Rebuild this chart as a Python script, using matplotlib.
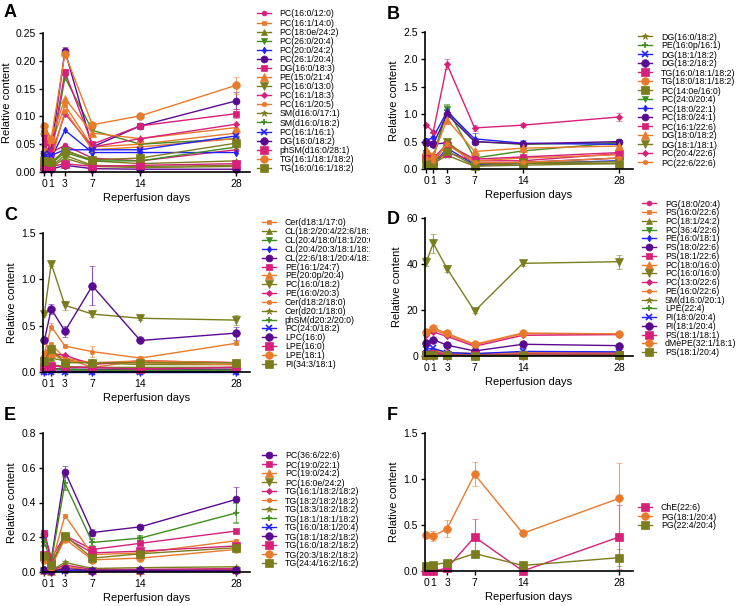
import matplotlib
matplotlib.use("Agg")
import matplotlib.pyplot as plt
from matplotlib.transforms import Bbox

plt.rcParams['font.family'] = ['Liberation Sans', 'DejaVu Sans']

days = [0, 1, 3, 7, 14, 28]

# ---- panel A ----
a_labels = ['PC(16:0/12:0)', 'PC(16:1/14:0)', 'PC(18:0e/24:2)', 'PC(26:0/20:4)', 'PC(20:0/24:2)',
            'PC(26:1/20:4)', 'DG(16:0/18:3)', 'PE(15:0/21:4)', 'PC(16:0/13:0)', 'PC(16:1/18:3)',
            'PC(16:1/20:5)', 'SM(d16:0/17:1)', 'SM(d16:0/18:2)', 'PC(16:1/16:1)', 'DG(16:0/18:2)',
            'phSM(d16:0/28:1)', 'TG(16:1/18:1/18:2)', 'TG(16:0/16:1/18:2)']
a_values = [
    [0.060, 0.035, 0.048, 0.025, 0.020, 0.040],
    [0.070, 0.050, 0.120, 0.045, 0.050, 0.070],
    [0.020, 0.015, 0.040, 0.020, 0.015, 0.020],
    [0.045, 0.030, 0.170, 0.075, 0.050, 0.060],
    [0.030, 0.025, 0.075, 0.035, 0.035, 0.035],
    [0.035, 0.040, 0.218, 0.045, 0.083, 0.128],
    [0.070, 0.035, 0.180, 0.050, 0.083, 0.105],
    [0.075, 0.060, 0.132, 0.070, 0.060, 0.080],
    [0.015, 0.010, 0.030, 0.012, 0.010, 0.012],
    [0.050, 0.030, 0.105, 0.045, 0.060, 0.086],
    [0.040, 0.020, 0.110, 0.040, 0.045, 0.060],
    [0.010, 0.008, 0.025, 0.010, 0.008, 0.010],
    [0.020, 0.015, 0.035, 0.020, 0.020, 0.045],
    [0.032, 0.030, 0.040, 0.040, 0.040, 0.065],
    [0.005, 0.005, 0.012, 0.006, 0.005, 0.005],
    [0.010, 0.010, 0.015, 0.010, 0.012, 0.015],
    [0.082, 0.060, 0.213, 0.085, 0.101, 0.156],
    [0.020, 0.018, 0.038, 0.022, 0.025, 0.052],
]
a_err = {5: [0.003, 0.003, 0.006, 0.004, 0.004, 0.015],
         6: [0.004, 0.003, 0.006, 0.004, 0.004, 0.008],
         13: [0.002, 0.002, 0.003, 0.003, 0.003, 0.008],
         16: [0.005, 0.004, 0.007, 0.005, 0.004, 0.015]}

# ---- panel B ----
b_labels = ['DG(16:0/18:2)', 'PE(16:0p/16:1)', 'DG(18:1/18:2)', 'DG(18:2/18:2)', 'TG(16:0/18:1/18:2)',
            'TG(18:0/18:1/18:2)', 'PC(14:0e/16:0)', 'PC(24:0/20:4)', 'PC(18:0/22:1)', 'PC(18:0/24:1)',
            'PC(16:1/22:6)', 'DG(18:0/18:2)', 'DG(18:1/18:1)', 'PC(20:4/22:6)', 'PC(22:6/22:6)']
b_values = [
    [0.15, 0.10, 0.25, 0.05, 0.07, 0.10],
    [0.30, 0.20, 1.07, 0.50, 0.45, 0.48],
    [0.10, 0.08, 0.38, 0.08, 0.10, 0.15],
    [0.50, 0.45, 0.48, 0.10, 0.12, 0.20],
    [0.20, 0.15, 0.30, 0.15, 0.15, 0.28],
    [0.25, 0.18, 0.45, 0.15, 0.20, 0.26],
    [0.10, 0.07, 0.33, 0.06, 0.10, 0.10],
    [0.30, 0.22, 1.10, 0.20, 0.33, 0.48],
    [0.52, 0.58, 1.05, 0.55, 0.47, 0.45],
    [0.48, 0.45, 1.00, 0.50, 0.46, 0.50],
    [0.28, 0.20, 0.45, 0.18, 0.22, 0.30],
    [0.35, 0.25, 0.90, 0.32, 0.38, 0.42],
    [0.12, 0.08, 0.50, 0.10, 0.12, 0.13],
    [0.80, 0.68, 1.91, 0.75, 0.80, 0.95],
    [0.20, 0.15, 0.45, 0.12, 0.12, 0.20],
]
b_err = {1: [0.03, 0.03, 0.10, 0.05, 0.04, 0.05],
         8: [0.03, 0.03, 0.08, 0.10, 0.06, 0.04],
         13: [0.03, 0.03, 0.09, 0.05, 0.04, 0.07]}

# ---- panel C ----
c_labels = ['Cer(d18:1/17:0)', 'CL(18:2/20:4/22:6/18:1)', 'CL(20:4/18:0/18:1/20:0)',
            'CL(20:4/20:3/18:1/18:1)', 'CL(22:6/18:1/20:4/18:1)', 'PE(16:1/24:7)', 'PE(20:0p/20:4)',
            'PC(16:0/18:2)', 'PE(16:0/20:3)', 'Cer(d18:2/18:0)', 'Cer(d20:1/18:0)', 'phSM(d20:2/20:0)',
            'PC(24:0/18:2)', 'LPC(16:0)', 'LPE(16:0)', 'LPE(18:1)', 'PI(34:3/18:1)']
c_values = [
    [0.20, 0.30, 0.15, 0.05, 0.12, 0.10],
    [0.10, 0.15, 0.12, 0.10, 0.08, 0.08],
    [0.02, 0.03, 0.02, 0.02, 0.02, 0.02],
    [0.005, 0.008, 0.006, 0.005, 0.005, 0.005],
    [0.03, 0.04, 0.03, 0.03, 0.03, 0.03],
    [0.06, 0.07, 0.05, 0.05, 0.04, 0.05],
    [0.18, 0.20, 0.15, 0.10, 0.10, 0.08],
    [0.63, 1.17, 0.72, 0.625, 0.58, 0.56],
    [0.15, 0.20, 0.18, 0.08, 0.12, 0.10],
    [0.20, 0.49, 0.28, 0.22, 0.15, 0.31],
    [0.05, 0.08, 0.06, 0.05, 0.05, 0.05],
    [0.03, 0.03, 0.03, 0.02, 0.02, 0.02],
    [0.005, 0.005, 0.005, 0.005, 0.005, 0.005],
    [0.34, 0.68, 0.44, 0.93, 0.34, 0.42],
    [0.05, 0.07, 0.05, 0.05, 0.03, 0.05],
    [0.15, 0.20, 0.12, 0.10, 0.12, 0.10],
    [0.12, 0.25, 0.10, 0.10, 0.10, 0.10],
]
c_err = {7: [0.02, 0.03, 0.05, 0.03, 0.02, 0.05],
         9: [0.02, 0.04, 0.02, 0.06, 0.02, 0.02],
         13: [0.02, 0.05, 0.06, 0.21, 0.02, 0.07]}

# ---- panel D ----
d_labels = ['PG(18:0/20:4)', 'PS(16:0/22:6)', 'PC(18:1/24:2)', 'PC(36:4/22:6)', 'PE(16:0/18:1)',
            'PS(18:0/22:6)', 'PS(18:1/22:6)', 'PC(18:0/16:0)', 'PC(16:0/16:0)', 'PC(13:0/22:6)',
            'PE(16:0/22:6)', 'SM(d16:0/20:1)', 'LPE(22:4)', 'PI(18:0/20:4)', 'PI(18:1/20:4)',
            'PS(18:1/18:1)', 'dMePE(32:1/18:1)', 'PS(18:1/20:4)']
d_values = [
    [0.8, 0.9, 0.7, 0.4, 0.6, 0.6],
    [9.8, 11.5, 9.3, 4.8, 9.7, 9.5],
    [0.5, 0.6, 0.4, 0.3, 0.4, 0.4],
    [1.0, 1.1, 0.8, 0.5, 0.8, 0.8],
    [1.5, 1.6, 1.2, 0.8, 1.2, 1.2],
    [1.0, 1.1, 0.9, 0.5, 0.9, 0.9],
    [1.2, 1.3, 1.0, 0.6, 1.0, 1.0],
    [2.0, 2.2, 1.6, 1.0, 1.5, 1.5],
    [41.0, 49.0, 38.0, 19.5, 40.3, 41.0],
    [9.0, 10.5, 8.5, 4.2, 9.0, 9.3],
    [2.0, 2.2, 1.5, 1.0, 1.5, 1.5],
    [0.5, 0.5, 0.4, 0.3, 0.4, 0.4],
    [0.3, 0.3, 0.3, 0.2, 0.3, 0.3],
    [3.0, 3.3, 1.5, 1.0, 2.0, 1.8],
    [5.7, 7.1, 4.7, 2.2, 5.1, 4.5],
    [0.6, 0.7, 0.5, 0.3, 0.5, 0.5],
    [10.5, 12.2, 9.8, 5.1, 10.0, 9.6],
    [0.3, 0.3, 0.3, 0.2, 0.3, 0.3],
]
d_err = {8: [2.0, 4.0, 1.5, 1.0, 1.0, 3.0],
         16: [0.6, 0.7, 0.5, 0.4, 0.5, 0.5]}

# ---- panel E ----
e_labels = ['PC(36:6/22:6)', 'PC(19:0/22:1)', 'PC(19:0/24:2)', 'PC(16:0e/24:2)', 'TG(16:1/18:2/18:2)',
            'TG(18:2/18:2/18:2)', 'TG(18:3/18:2/18:2)', 'TG(18:1/18:1/18:2)', 'TG(16:0/18:1/20:4)',
            'TG(18:1/18:2/18:2)', 'TG(16:0/18:2/18:2)', 'TG(20:3/18:2/18:2)', 'TG(24:4/16:2/16:2)']
e_values = [
    [0.22, 0.07, 0.578, 0.227, 0.26, 0.418],
    [0.225, 0.08, 0.21, 0.13, 0.165, 0.236],
    [0.01, 0.005, 0.03, 0.01, 0.01, 0.015],
    [0.005, 0.003, 0.01, 0.005, 0.005, 0.006],
    [0.015, 0.01, 0.04, 0.015, 0.015, 0.02],
    [0.08, 0.04, 0.325, 0.10, 0.11, 0.18],
    [0.02, 0.01, 0.055, 0.02, 0.025, 0.03],
    [0.17, 0.06, 0.51, 0.17, 0.195, 0.34],
    [0.005, 0.003, 0.008, 0.005, 0.005, 0.005],
    [0.01, 0.005, 0.02, 0.008, 0.01, 0.01],
    [0.10, 0.05, 0.20, 0.11, 0.12, 0.15],
    [0.07, 0.03, 0.19, 0.07, 0.08, 0.13],
    [0.09, 0.04, 0.21, 0.08, 0.105, 0.14],
]
e_err = {0: [0.02, 0.01, 0.03, 0.02, 0.01, 0.07],
         7: [0.02, 0.01, 0.04, 0.02, 0.01, 0.06],
         5: [0.01, 0.01, 0.01, 0.01, 0.01, 0.01]}

# ---- panel F ----
f_labels = ['ChE(22:6)', 'PG(18:1/20:4)', 'PG(22:4/20:4)']
f_values = [
    [0.0, 0.0, 0.03, 0.37, 0.0, 0.37],
    [0.39, 0.38, 0.46, 1.05, 0.41, 0.79],
    [0.05, 0.07, 0.09, 0.19, 0.06, 0.145],
]
f_err = {0: [0.0, 0.0, 0.02, 0.19, 0.0, 0.35],
         1: [0.02, 0.05, 0.09, 0.13, 0.02, 0.38],
         2: [0.01, 0.01, 0.01, 0.02, 0.01, 0.09]}

# colour / marker cycle as Prism draws it
MAG, ORA, OLI, GRN, BLU, PUR = '#d6207a', '#e87a2c', '#7b7d1c', '#3f8c1f', '#2020ff', '#5a0a90'
STYLES = [(MAG, 'o', 3.5), (ORA, 's', 3.5), (OLI, '^', 4), (GRN, 'v', 4), (BLU, 'd', 3.5),
          (PUR, 'o', 5), (MAG, 's', 5), (ORA, '^', 5.5), (OLI, 'v', 5.5), (MAG, 'D', 3.2),
          (ORA, 'h', 3.5), (OLI, '*', 4.5), (GRN, '+', 5), (BLU, 'x', 4), (PUR, 'o', 5.5),
          (MAG, 's', 5.5), (ORA, 'o', 5.5), (OLI, 's', 5.5)]

W, H = 738, 606
fig = plt.figure(figsize=(W / 100, H / 100), dpi=100)


def px_axes(left, top, right, bottom):
    return fig.add_axes([left / W, 1 - bottom / H, (right - left) / W, (bottom - top) / H])


def panel(ax, labels, values, errs, style_idx, ymax, yticks, fmt, letter, letter_xy,
          leg_xy, leg_space, leg_fs=6.3, clip_x=None):
    handles = []
    for i, (lab, vals) in enumerate(zip(labels, values)):
        color, marker, ms = STYLES[style_idx[i]]
        cont = ax.errorbar(days, vals, yerr=errs.get(i), color=color, marker=marker,
                           markersize=ms, linewidth=1.0, elinewidth=0.8, capsize=2,
                           capthick=0.8, markeredgewidth=1.2 if marker in '+x' else 0.5,
                           clip_on=False, label=lab)
        for part in cont[2]:
            part.set_alpha(0.7)
        for part in cont[1]:
            part.set_alpha(0.7)
        handles.append(cont[0])
    ax.set_xlim(-0.2, 30)
    ax.set_ylim(0, ymax)
    ax.set_xticks(days)
    ax.set_xticklabels([str(d) for d in days])
    ax.set_yticks(yticks)
    ax.set_yticklabels([fmt.format(t) for t in yticks])
    for s in ('top', 'right'):
        ax.spines[s].set_visible(False)
    for s in ('left', 'bottom'):
        ax.spines[s].set_linewidth(1.2)
    ax.tick_params(labelsize=7.5, length=3, width=1, pad=2)
    ax.set_xlabel('Reperfusion days', fontsize=8, labelpad=3)
    ax.set_ylabel('Relative content', fontsize=8, labelpad=3)
    fig.text(letter_xy[0] / W, 1 - letter_xy[1] / H, letter, fontsize=13,
             fontweight='bold', va='top', ha='left')
    leg = ax.legend(handles, labels, loc='upper left', frameon=False,
                    bbox_to_anchor=(leg_xy[0] / W, 1 - leg_xy[1] / H),
                    bbox_transform=fig.transFigure, fontsize=leg_fs, borderpad=0,
                    borderaxespad=0, handlelength=1.6, handletextpad=1.0,
                    labelspacing=leg_space, numpoints=1)
    if clip_x is not None:
        bb = Bbox.from_extents(0, 0, clip_x, H)
        for t in leg.get_texts():
            t.set_clip_box(bb)
            t.set_clip_on(True)


axA = px_axes(43, 33, 250, 172)
panel(axA, a_labels, a_values, a_err, list(range(18)), 0.25,
      [0, 0.05, 0.10, 0.15, 0.20, 0.25], '{:.2f}', 'A', (4, 4), (257, 9.5), 0.01)

axB = px_axes(425, 32, 633, 169)
panel(axB, b_labels, b_values, b_err, [11, 12, 13, 14, 15, 16, 17, 3, 4, 5, 6, 7, 8, 9, 10],
      2.5, [0, 0.5, 1.0, 1.5, 2.0, 2.5], '{:.1f}', 'B', (387, 6), (638, 32.5), 0.0)

axC = px_axes(43, 233, 250, 372)
panel(axC, c_labels, c_values, c_err, list(range(1, 18)), 1.5,
      [0, 0.5, 1.0, 1.5], '{:.1f}', 'C', (4, 207), (262, 218.5), -0.02, clip_x=370)

axD = px_axes(425, 218, 633, 356)
panel(axD, d_labels, d_values, d_err, list(range(18)), 60,
      [0, 20, 40, 60], '{:.0f}', 'D', (387, 211), (642, 199.5), -0.03)

axE = px_axes(43, 433, 250, 572)
panel(axE, e_labels, e_values, e_err, list(range(5, 18)), 0.8,
      [0, 0.2, 0.4, 0.6, 0.8], '{:.1f}', 'E', (4, 407), (262, 451.5), 0.0)

axF = px_axes(425, 433, 633, 571)
panel(axF, f_labels, f_values, f_err, [15, 16, 17], 1.5,
      [0, 0.5, 1.0, 1.5], '{:.1f}', 'F', (387, 407), (638, 503.5), 0.0)

fig.savefig('out.png', dpi=100)
